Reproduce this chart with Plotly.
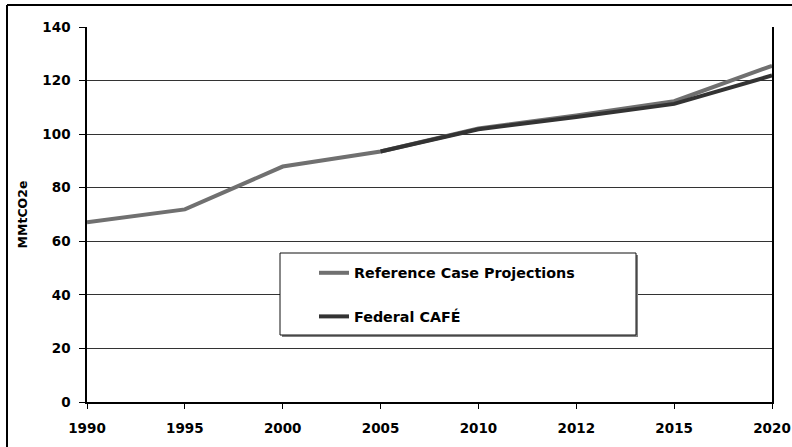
import plotly.graph_objects as go

years = ["1990", "1995", "2000", "2005", "2010", "2012", "2015", "2020"]
reference_case = [67.1, 71.9, 87.9, 93.5, 102.1, 107.0, 112.3, 125.5]
federal_years = ["2005", "2010", "2012", "2015", "2020"]
federal_cafe = [93.5, 101.8, 106.4, 111.3, 121.9]
y_ticks = [0, 20, 40, 60, 80, 100, 120, 140]

FONT = "DejaVu Sans"

fig = go.Figure()
fig.add_trace(go.Scatter(
    x=years, y=reference_case, mode="lines", name="Reference Case Projections",
    line=dict(color="#707070", width=4), legendgroup="a"))
fig.add_trace(go.Scatter(
    x=federal_years, y=federal_cafe, mode="lines", name="Federal CAFÉ",
    line=dict(color="#333333", width=4), legendgroup="b"))

L, R, T, B = 87, 20, 27, 45
W, H = 792, 447
pw, ph = W - L - R, H - T - B

def px_x(px):
    return (px - L) / pw

def px_y(py):
    return 1 - (py - T) / ph

fig.update_layout(
    width=W, height=H,
    margin=dict(l=L, r=R, t=T, b=B, autoexpand=False),
    paper_bgcolor="white", plot_bgcolor="white",
    font=dict(family=FONT, color="black", size=13, weight="bold"),
    showlegend=True,
    legend=dict(
        x=px_x(314), y=px_y(257), xanchor="left", yanchor="top",
        bgcolor="rgba(0,0,0,0)", borderwidth=0,
        font=dict(family=FONT, size=14.3, weight="bold", color="black"),
        tracegroupgap=22, traceorder="grouped",
        itemwidth=30,
    ),
    xaxis=dict(
        type="category", range=[0, 7],
        showgrid=False, showline=True, linecolor="black", linewidth=1.5,
        ticks="outside", ticklen=5, tickcolor="black", tickwidth=1,
        tickfont=dict(family=FONT, size=13.5, weight="bold"),
        ticklabelstandoff=8, zeroline=False, fixedrange=True,
    ),
    yaxis=dict(
        range=[0, 140], tickvals=y_ticks,
        showgrid=True, gridcolor="#333333", gridwidth=1,
        showline=True, linecolor="black", linewidth=1.5, mirror=True,
        ticks="outside", ticklen=6, tickcolor="black", tickwidth=1,
        tickfont=dict(family=FONT, size=13.5, weight="bold"),
        ticklabelstandoff=6, zeroline=False, fixedrange=True,
        title=dict(text="MMtCO2e", font=dict(family=FONT, size=12.5, weight="bold"), standoff=12),
    ),
)

# legend box: drop shadow, then white box with border
fig.add_shape(type="rect", xref="paper", yref="paper",
              x0=px_x(282), x1=px_x(638), y0=px_y(337), y1=px_y(255),
              line=dict(width=0), fillcolor="#808080", layer="above")
fig.add_shape(type="rect", xref="paper", yref="paper",
              x0=px_x(280), x1=px_x(636), y0=px_y(335), y1=px_y(253),
              line=dict(color="#111111", width=1), fillcolor="white", layer="above")

# outer chart-area border (top and left edges visible)
fig.add_shape(type="line", xref="paper", yref="paper",
              x0=px_x(7), x1=px_x(800), y0=px_y(5), y1=px_y(5),
              line=dict(color="black", width=2))
fig.add_shape(type="line", xref="paper", yref="paper",
              x0=px_x(7), x1=px_x(7), y0=px_y(5), y1=px_y(460),
              line=dict(color="black", width=2))

fig.write_html("out.html", config={"displayModeBar": False},
               post_script="document.body.style.margin='0px';")
